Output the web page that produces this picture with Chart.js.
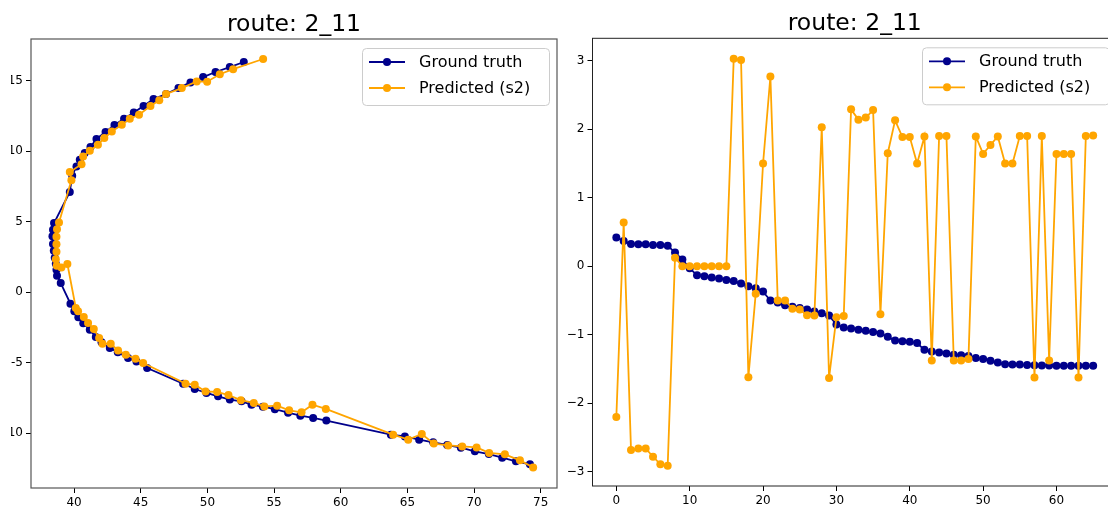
<!DOCTYPE html>
<html>
<head>
<meta charset="utf-8">
<script src="https://cdn.jsdelivr.net/npm/chart.js@4"></script>
<style>
  html, body { margin: 0; padding: 0; background: #fff; overflow: hidden; }
  body { width: 1108px; height: 506px; position: relative; }
  .panel { position: absolute; top: 0; height: 506px; overflow: hidden; }
  .panel canvas { position: absolute; top: 0; }
  /* the left figure is trimmed just inside its y tick labels */
  #xy-panel { left: 11px; width: 569px; }
  #xy-panel canvas { left: -31px; }
  #step-panel { left: 540px; width: 568px; }
  #step-panel canvas { left: 0; }
</style>
</head>
<body>
<div class="panel" id="xy-panel"><canvas id="xy-chart" width="600" height="506"></canvas></div>
<div class="panel" id="step-panel"><canvas id="step-chart" width="600" height="506"></canvas></div>
<script>
const ROUTE_TITLE = "route: 2_11";
const SERIES_LABELS = ["Ground truth", "Predicted (s2)"];
const SERIES_COLORS = ["#00008b", "#ffa500"];

// route positions (x, y)
const truthX = [52.73, 51.68, 50.61, 49.68, 48.73, 47.83, 46.90, 45.96, 45.21, 44.48,
  43.75, 43.03, 42.36, 41.68, 41.23, 40.80, 40.43, 40.18, 39.86, 39.68,
  38.50, 38.42, 38.38, 38.42, 38.48, 38.55, 38.63, 38.68, 38.72, 39.00,
  39.73, 40.02, 40.32, 40.69, 41.18, 41.63, 42.06, 42.68, 43.28, 44.05,
  44.68, 45.48, 48.18, 49.05, 49.93, 50.80, 51.68, 52.56, 53.31, 54.16,
  55.06, 56.05, 56.97, 57.93, 58.92, 63.76, 64.81, 65.88, 66.93, 67.98,
  69.01, 70.06, 71.11, 72.11, 73.14, 74.19];
const truthY = [16.33, 15.97, 15.62, 15.26, 14.88, 14.48, 14.06, 13.70, 13.21, 12.75,
  12.30, 11.86, 11.36, 10.87, 10.30, 9.87, 9.40, 8.92, 8.26, 7.11,
  4.91, 4.43, 3.96, 3.42, 2.94, 2.45, 2.02, 1.60, 1.17, 0.65,
  -0.82, -1.36, -1.77, -2.20, -2.66, -3.18, -3.56, -3.96, -4.26, -4.67,
  -4.91, -5.38, -6.49, -6.87, -7.15, -7.39, -7.62, -7.74, -7.98, -8.12,
  -8.30, -8.55, -8.76, -8.92, -9.11, -10.11, -10.23, -10.46, -10.65, -10.84,
  -11.03, -11.29, -11.48, -11.74, -12.00, -12.21];
const predX = [54.18, 51.93, 50.93, 49.98, 49.20, 48.08, 46.90, 46.39, 45.73, 44.87,
  44.18, 43.58, 42.83, 42.27, 41.79, 41.18, 40.68, 40.56, 39.68, 39.80,
  38.87, 38.72, 38.68, 38.68, 38.68, 38.63, 38.70, 39.05, 39.50, 40.13,
  40.30, 40.73, 41.05, 41.48, 41.88, 42.13, 42.75, 43.30, 43.88, 44.61,
  45.18, 48.36, 49.05, 49.86, 50.73, 51.58, 52.51, 53.48, 54.27, 55.23,
  56.13, 57.06, 57.88, 58.88, 63.93, 65.06, 66.08, 66.98, 68.06, 69.11,
  70.19, 71.13, 72.31, 73.44, 74.43];
const predY = [16.54, 15.82, 15.46, 14.93, 14.95, 14.48, 14.06, 13.62, 13.21, 12.59,
  12.30, 11.87, 11.40, 10.94, 10.46, 10.04, 9.63, 9.08, 8.52, 7.94,
  4.95, 4.47, 3.94, 3.40, 2.87, 2.34, 1.88, 1.76, 2.00, -1.12,
  -1.36, -1.76, -2.18, -2.61, -3.25, -3.65, -3.65, -4.13, -4.43, -4.72,
  -5.02, -6.49, -6.56, -7.04, -7.08, -7.30, -7.66, -7.86, -8.10, -8.05,
  -8.38, -8.52, -7.98, -8.28, -10.11, -10.46, -10.06, -10.74, -10.87, -10.94,
  -11.01, -11.40, -11.50, -11.93, -12.43];

// per-step values
const truthStep = [0.42, 0.37, 0.325, 0.32, 0.32, 0.31, 0.31, 0.30, 0.20, 0.10,
  -0.03, -0.13, -0.145, -0.165, -0.18, -0.20, -0.215, -0.25, -0.29, -0.32,
  -0.37, -0.50, -0.53, -0.57, -0.59, -0.61, -0.63, -0.66, -0.685, -0.72,
  -0.85, -0.895, -0.91, -0.925, -0.94, -0.96, -0.98, -1.03, -1.085, -1.095,
  -1.10, -1.12, -1.22, -1.245, -1.26, -1.275, -1.29, -1.30, -1.31, -1.34,
  -1.355, -1.38, -1.405, -1.43, -1.435, -1.435, -1.44, -1.445, -1.45, -1.45,
  -1.453, -1.453, -1.453, -1.453, -1.453, -1.453];
const predStep = [-2.2, 0.64, -2.68, -2.66, -2.66, -2.78, -2.89, -2.91, 0.125, 0,
  0, 0, 0, 0, 0, 0, 3.03, 3.01, -1.62, -0.40,
  1.50, 2.77, -0.50, -0.50, -0.62, -0.63, -0.715, -0.72, 2.03, -1.63,
  -0.745, -0.725, 2.29, 2.14, 2.17, 2.28, -0.70, 1.65, 2.13, 1.885,
  1.885, 1.50, 1.895, -1.375, 1.90, 1.90, -1.375, -1.375, -1.355, 1.895,
  1.64, 1.77, 1.895, 1.50, 1.50, 1.90, 1.90, -1.625, 1.90, -1.375,
  1.64, 1.64, 1.64, -1.625, 1.90, 1.91];

const xyTicksX = [40, 45, 50, 55, 60, 65, 70, 75];
const xyTicksY = [-10, -5, 0, 5, 10, 15];
const stepTicksX = [0, 10, 20, 30, 40, 50, 60];
const stepTicksY = [-3, -2, -1, 0, 1, 2, 3];

const FONT = "DejaVu Sans";

// axes box, title and an upper-right legend, drawn over the plot
const framePlugin = {
  id: "frame",
  afterDraw(chart, args, opts) {
    const { ctx, chartArea: a } = chart;
    ctx.save();
    ctx.strokeStyle = opts.color;
    ctx.lineWidth = opts.width;
    ctx.strokeRect(a.left, a.top, a.right - a.left, a.bottom - a.top);

    ctx.fillStyle = "#000";
    ctx.font = `23.5px "${FONT}"`;
    ctx.textAlign = "center";
    ctx.textBaseline = "alphabetic";
    ctx.fillText(ROUTE_TITLE, (a.left + a.right) / 2, a.top - 8);

    const w = 187, h = 57;
    const x0 = a.right - 8 - w, y0 = a.top + 9;
    ctx.beginPath();
    ctx.roundRect(x0 + 0.5, y0 + 0.5, w, h, 4);
    ctx.fillStyle = "rgba(255,255,255,0.8)";
    ctx.fill();
    ctx.strokeStyle = "#cccccc";
    ctx.lineWidth = 1;
    ctx.stroke();

    ctx.font = `16px "${FONT}"`;
    ctx.textAlign = "left";
    ctx.textBaseline = "middle";
    SERIES_LABELS.forEach((label, i) => {
      const y = y0 + 14 + i * 26;
      ctx.strokeStyle = SERIES_COLORS[i];
      ctx.lineWidth = 1.8;
      ctx.beginPath();
      ctx.moveTo(x0 + 7, y);
      ctx.lineTo(x0 + 43, y);
      ctx.stroke();
      ctx.fillStyle = SERIES_COLORS[i];
      ctx.beginPath();
      ctx.arc(x0 + 25, y, 4, 0, Math.PI * 2);
      ctx.fill();
      ctx.fillStyle = "#000";
      ctx.fillText(label, x0 + 57, y + 1);
    });
    ctx.restore();
  },
};

function makeAxis(pos, min, max, ticks, extent, fmt) {
  return {
    type: "linear",
    position: pos,
    min,
    max,
    afterBuildTicks: (s) => { s.ticks = ticks.map((v) => ({ value: v })); },
    afterFit: (s) => {
      if (pos === "left") s.width = extent;
      else s.height = extent;
    },
    grid: { display: true, drawOnChartArea: false, drawTicks: true, tickLength: 5, tickColor: "#000", tickWidth: 1 },
    border: { display: false },
    ticks: {
      color: "#000",
      font: { family: FONT, size: 12 },
      padding: 3,
      autoSkip: false,
      maxRotation: 0,
      callback: fmt,
    },
  };
}

function series(xs, ys, i) {
  return {
    label: SERIES_LABELS[i],
    data: ys.map((y, k) => ({ x: xs[k], y })),
    showLine: true,
    borderColor: SERIES_COLORS[i],
    backgroundColor: SERIES_COLORS[i],
    borderWidth: 1.8,
    pointRadius: 4,
    pointBorderWidth: 0,
    pointBackgroundColor: SERIES_COLORS[i],
    order: 2 - i,
  };
}

const steps = truthStep.map((_, k) => k);

function baseOptions(padding, frame) {
  return {
    animation: false,
    responsive: false,
    devicePixelRatio: 1,
    layout: { padding },
    plugins: { legend: { display: false }, tooltip: { enabled: false }, frame },
  };
}

new Chart(document.getElementById("xy-chart"), {
  type: "scatter",
  data: { datasets: [series(truthX, truthY, 0), series(predX, predY, 1)] },
  options: {
    ...baseOptions({ left: 0, right: 23, top: 39, bottom: 0 }, { color: "#555", width: 1.2 }),
    scales: {
      x: makeAxis("bottom", 36.77, 76.22, xyTicksX, 18, (v) => String(v)),
      y: makeAxis("left", -13.89, 17.96, xyTicksY, 51, (v) => String(v)),
    },
  },
  plugins: [framePlugin],
});

new Chart(document.getElementById("step-chart"), {
  type: "scatter",
  data: { datasets: [series(steps, truthStep, 0), series(steps, predStep, 1)] },
  options: {
    ...baseOptions({ left: 0, right: 23, top: 38.3, bottom: 0 }, { color: "#222", width: 1 }),
    scales: {
      x: makeAxis("bottom", -3.25, 68.25, stepTicksX, 20, (v) => String(v)),
      y: makeAxis("left", -3.207, 3.327, stepTicksY, 52.5, (v) => (v < 0 ? "\u2212" + Math.abs(v) : String(v))),
    },
  },
  plugins: [framePlugin],
});
</script>
</body>
</html>
